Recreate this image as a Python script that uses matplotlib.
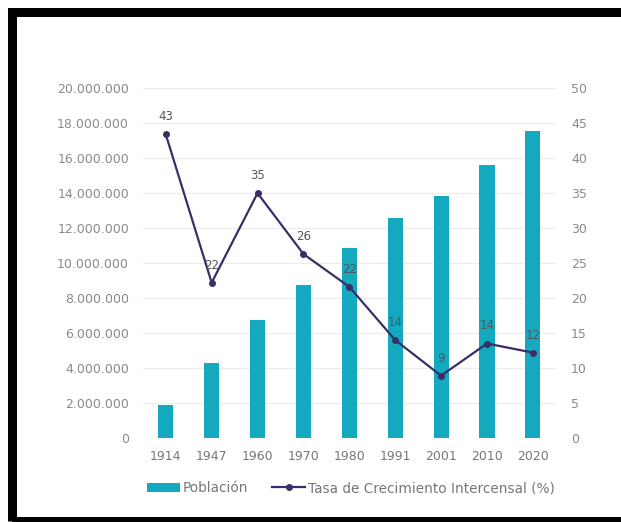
import matplotlib.pyplot as plt
from matplotlib.patches import Rectangle
from matplotlib.ticker import FuncFormatter

# datos del grafico
anios = ['1914', '1947', '1960', '1970', '1980', '1991', '2001', '2010', '2020']
poblacion = [1900000, 4270000, 6770000, 8770000, 10870000, 12590000, 13830000, 15630000, 17570000]
tasa = [43.4, 22.2, 35.0, 26.3, 21.6, 14.0, 8.9, 13.5, 12.2]
etiquetas_tasa = ['43', '22', '35', '26', '22', '14', '9', '14', '12']

color_barra = '#14a9bf'
color_linea = '#3b2d68'
color_texto = '#8a8a8a'

plt.rcParams['font.family'] = ['DejaVu Sans']

fig = plt.figure(figsize=(6.21, 5.22), dpi=100)
ax = fig.add_axes([0.230, 0.161, 0.665, 0.670])
ax2 = ax.twinx()

x = list(range(len(anios)))
barras = ax.bar(x, poblacion, width=0.33, color=color_barra, zorder=2, label='Población')
linea, = ax2.plot(x, tasa, color=color_linea, lw=1.6, marker='o', markersize=4,
                  zorder=3, label='Tasa de Crecimiento Intercensal (%)')

for xi, yi, t in zip(x, tasa, etiquetas_tasa):
    ax2.annotate(t, (xi, yi), xytext=(0, 8), textcoords='offset points',
                 ha='center', va='bottom', fontsize=8.5, color='#555555')

ax.set_xlim(-0.5, len(anios) - 0.5)
ax.set_ylim(0, 20000000)
ax2.set_ylim(0, 50)
ax.set_yticks(range(0, 20000001, 2000000))
ax2.set_yticks(range(0, 51, 5))
ax.yaxis.set_major_formatter(FuncFormatter(lambda v, p: f'{int(v):,}'.replace(',', '.')))
ax.set_xticks(x)
ax.set_xticklabels(anios)

ax.grid(axis='y', color='#ececec', lw=0.8, zorder=0)
for a in (ax, ax2):
    for s in a.spines.values():
        s.set_visible(False)
    a.tick_params(length=0, labelsize=9, labelcolor=color_texto)
ax.tick_params(axis='y', pad=10)
ax2.tick_params(axis='y', pad=11)
ax.tick_params(axis='x', pad=9, labelsize=9, labelcolor='#777777')

leg = fig.legend(handles=[barras, linea], loc='center', bbox_to_anchor=(0.565, 0.065),
                 ncol=2, frameon=False, fontsize=9.8, handlelength=2.4,
                 handletextpad=0.2, columnspacing=1.8)
for t in leg.get_texts():
    t.set_color('#777777')

# marco negro
fig.patches.append(Rectangle((11.5 / 621, 1 / 522), 1.2, 509.5 / 522, transform=fig.transFigure,
                             fill=False, edgecolor='black', lw=6.5, clip_on=False))

fig.savefig('out.png', dpi=100)
